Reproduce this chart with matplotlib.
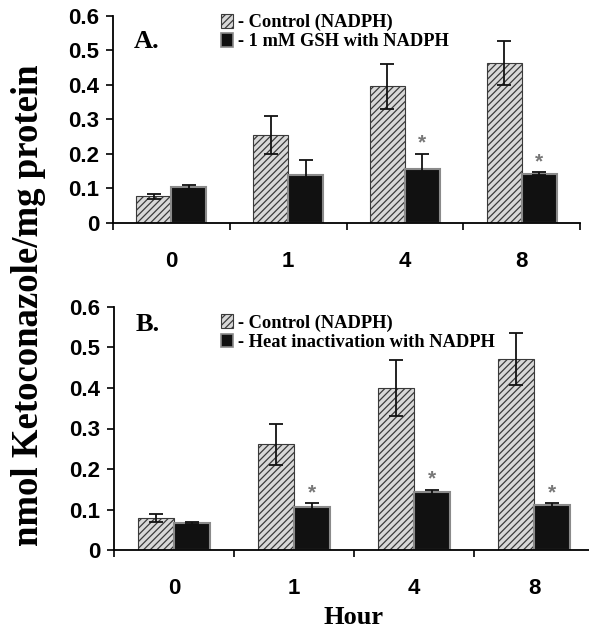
import matplotlib
matplotlib.use("Agg")
import matplotlib.pyplot as plt
import numpy as np
from matplotlib.patches import Patch

hours = ['0', '1', '4', '8']
a_control = [0.077, 0.254, 0.396, 0.464]
a_control_err = [0.008, 0.055, 0.066, 0.064]
a_gsh = [0.104, 0.140, 0.157, 0.143]
a_gsh_err = [0.005, 0.044, 0.044, 0.005]
a_sig = [False, False, True, True]

b_control = [0.078, 0.261, 0.400, 0.471]
b_control_err = [0.010, 0.050, 0.069, 0.064]
b_heat = [0.066, 0.105, 0.143, 0.111]
b_heat_err = [0.002, 0.010, 0.006, 0.004]
b_sig = [False, True, True, True]

yticks = [0, 0.1, 0.2, 0.3, 0.4, 0.5, 0.6]
ytick_labels = ['0', '0.1', '0.2', '0.3', '0.4', '0.5', '0.6']

plt.rcParams['hatch.linewidth'] = 0.9
SERIF = 'Liberation Serif'
SANS = 'Liberation Sans'

fig = plt.figure(figsize=(5.89, 6.31), dpi=100)
W, H = 589, 631
axA = fig.add_axes([113 / W, 1 - 223 / H, 467 / W, 207 / H])
axB = fig.add_axes([114 / W, 1 - 550 / H, 480 / W, 243 / H])


def draw(ax, ctrl, ctrl_err, trt, trt_err, sig, letter, label2, leg_x, leg_y, let_y):
    x = np.arange(len(hours))
    w = 0.3
    ax.bar(x - 0.15, ctrl, w, color='#d8d8d8', edgecolor='#3a3a3a',
           hatch='/////', linewidth=0.8, zorder=2)
    ax.bar(x + 0.15, trt, w, color='#111111', edgecolor='#8a8a8a',
           linewidth=1.5, zorder=2)
    ax.errorbar(x - 0.15, ctrl, yerr=ctrl_err, fmt='none', ecolor='#111111',
                elinewidth=1.3, capsize=5, capthick=1.3, zorder=3)
    ax.errorbar(x + 0.15, trt, yerr=trt_err, fmt='none', ecolor='#111111',
                elinewidth=1.3, capsize=5, capthick=1.3, zorder=3)
    for i, s in enumerate(sig):
        if s:
            ax.text(x[i] + 0.15, trt[i] + trt_err[i] + 0.003, '*',
                    ha='center', va='bottom', color='#777777', fontsize=15,
                    fontweight='bold', family=SANS)
    ax.set_xlim(-0.5, 3.5)
    ax.set_ylim(0, 0.6)
    ax.set_yticks(yticks)
    ax.set_yticklabels(ytick_labels, family=SANS, fontweight='bold', fontsize=16)
    ax.set_xticks(x)
    ax.set_xticklabels(hours, family=SANS, fontweight='bold', fontsize=16)
    ax.set_xticks(np.arange(-0.5, 4.0, 1.0), minor=True)
    ax.tick_params(axis='x', which='major', length=0, pad=20)
    ax.tick_params(axis='x', which='minor', length=5, width=1.2, direction='out')
    ax.tick_params(axis='y', length=5, width=1.2, direction='out', pad=5)
    for s in ['top', 'right']:
        ax.spines[s].set_visible(False)
    ax.spines['left'].set_linewidth(1.3)
    ax.spines['bottom'].set_linewidth(1.3)
    ax.text(0.045, let_y, letter, transform=ax.transAxes, family=SERIF,
            fontweight='bold', fontsize=19, va='top', ha='left')
    handles = [Patch(facecolor='#d8d8d8', edgecolor='#3a3a3a', hatch='/////', linewidth=0.8),
               Patch(facecolor='#111111', edgecolor='#8a8a8a', linewidth=1.2)]
    ax.legend(handles, ['- Control (NADPH)', label2], loc='upper left',
              bbox_to_anchor=(leg_x, leg_y), frameon=False,
              handlelength=0.65, handleheight=0.75, handletextpad=0.3,
              labelspacing=0.1, borderaxespad=0,
              prop={'family': SERIF, 'weight': 'bold', 'size': 13.3})


draw(axA, a_control, a_control_err, a_gsh, a_gsh_err, a_sig, 'A.',
     '- 1 mM GSH with NADPH', 0.215, 1.045, 0.93)
draw(axB, b_control, b_control_err, b_heat, b_heat_err, b_sig, 'B.',
     '- Heat inactivation with NADPH', 0.207, 1.0, 0.975)

axB.set_xlabel('Hour', family=SERIF, fontweight='bold', fontsize=19, labelpad=5)
fig.text(29 / W, 1 - 305 / H, 'nmol Ketoconazole/mg protein', rotation=90,
         ha='center', va='center', family=SERIF, fontweight='bold', fontsize=26.5)

fig.savefig('out.png', dpi=100)
